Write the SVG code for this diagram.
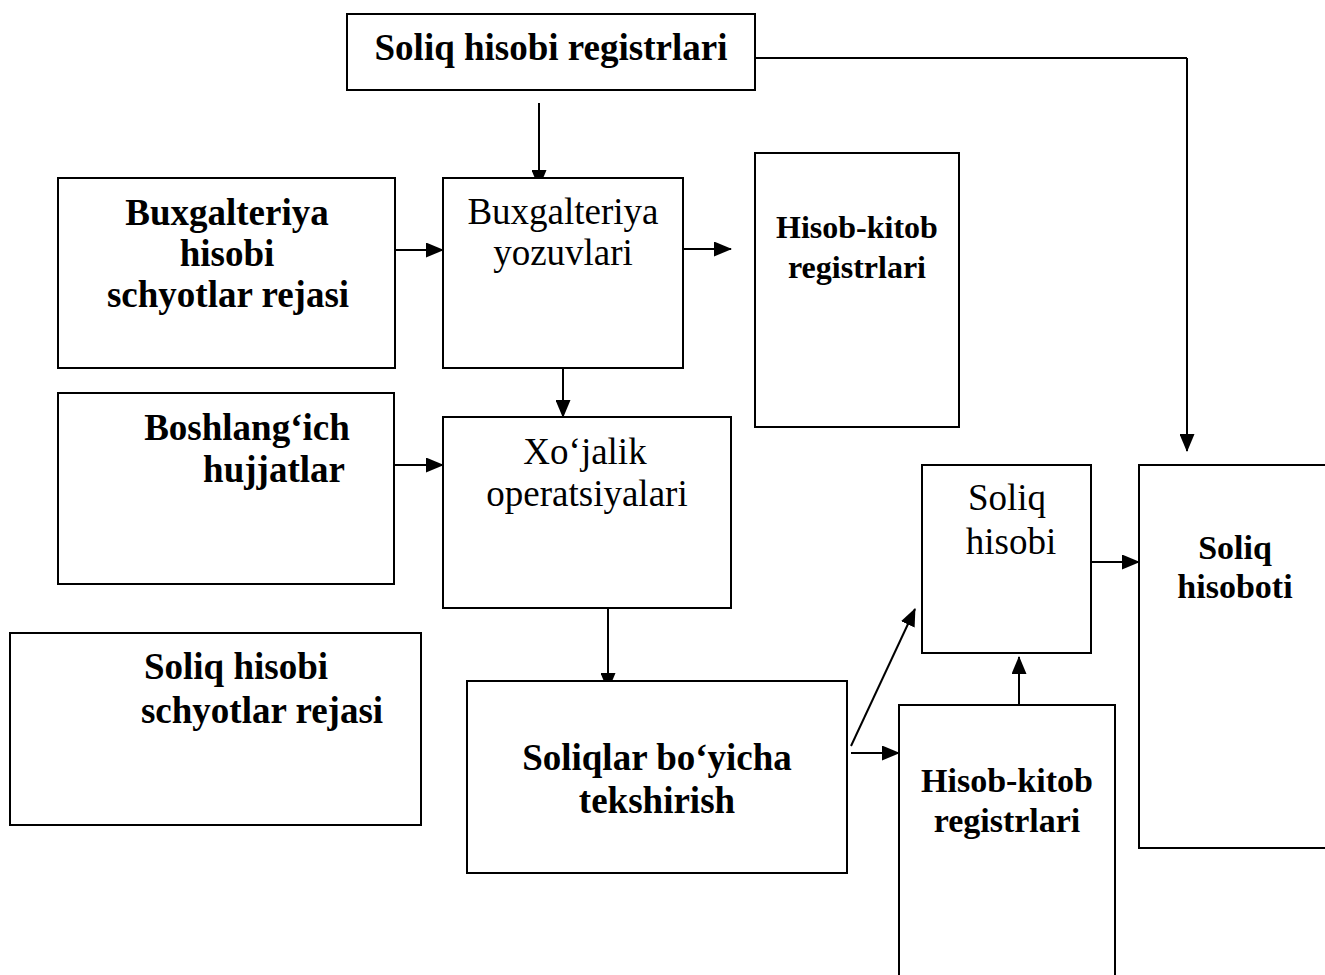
<svg xmlns="http://www.w3.org/2000/svg" width="1325" height="975" viewBox="0 0 1325 975">
  <defs>
    <marker id="arrow" viewBox="0 0 18 15" refX="17" refY="7.5" markerWidth="18" markerHeight="15" markerUnits="userSpaceOnUse" orient="auto">
      <path d="M0,0 L18,7.5 L0,15 Z" fill="#000"/>
    </marker>
    <style>
      .box { fill: #fff; stroke: #000; stroke-width: 2; }
      .t { font-family: "Liberation Serif", "Times New Roman", serif; fill: #000; text-anchor: middle; }
      .b { font-weight: bold; font-size: 37px; }
      .bs { font-weight: bold; font-size: 34px; }
      .bx { font-weight: bold; font-size: 32px; }
      .r { font-weight: normal; font-size: 37px; }
      .c { fill: none; stroke: #000; stroke-width: 2; }
      .ca { fill: none; stroke: #000; stroke-width: 2; marker-end: url(#arrow); }
    </style>
  </defs>
  <rect width="1325" height="975" fill="#fff"/>

  <!-- connectors -->
  <g id="connectors">
    <path class="c" d="M755,58 H1187"/>
    <path class="ca" d="M1187,58 V451"/>
    <path class="ca" d="M539,103 V187"/>
    <path class="ca" d="M396,250 H443"/>
    <path class="ca" d="M684,249 H731"/>
    <path class="ca" d="M563,368 V417"/>
    <path class="ca" d="M395,465 H443"/>
    <path class="ca" d="M608,608 V690"/>
    <path class="ca" d="M851,746 L915,609"/>
    <path class="ca" d="M851,753 H899"/>
    <path class="ca" d="M1019,705 V657"/>
    <path class="ca" d="M1092,562 H1139"/>
  </g>

  <g id="soliq-hisobi-registrlari">
    <rect class="box" x="347" y="14" width="408" height="76"/>
    <text class="t b" x="551" y="60">Soliq hisobi registrlari</text>
  </g>

  <g id="buxgalteriya-hisobi-rejasi">
    <rect class="box" x="58" y="178" width="337" height="190"/>
    <text class="t b" x="227" y="225">Buxgalteriya</text>
    <text class="t b" x="227" y="266">hisobi</text>
    <text class="t b" x="228" y="307">schyotlar rejasi</text>
  </g>

  <g id="buxgalteriya-yozuvlari">
    <rect class="box" x="443" y="178" width="240" height="190"/>
    <text class="t r" x="563" y="224">Buxgalteriya</text>
    <text class="t r" x="563" y="265">yozuvlari</text>
  </g>

  <g id="hisob-kitob-registrlari-1">
    <rect class="box" x="755" y="153" width="204" height="274"/>
    <text class="t bx" x="857" y="238">Hisob-kitob</text>
    <text class="t bx" x="857" y="278">registrlari</text>
  </g>

  <g id="boshlangich-hujjatlar">
    <rect class="box" x="58" y="393" width="336" height="191"/>
    <text class="t b" x="247" y="440">Boshlang‘ich</text>
    <text class="t b" x="274" y="482">hujjatlar</text>
  </g>

  <g id="xojalik-operatsiyalari">
    <rect class="box" x="443" y="417" width="288" height="191"/>
    <text class="t r" x="585" y="464">Xo‘jalik</text>
    <text class="t r" x="587" y="506">operatsiyalari</text>
  </g>

  <g id="soliq-hisobi-rejasi">
    <rect class="box" x="10" y="633" width="411" height="192"/>
    <text class="t b" x="236" y="679">Soliq hisobi</text>
    <text class="t b" x="262" y="723">schyotlar rejasi</text>
  </g>

  <g id="soliqlar-tekshirish">
    <rect class="box" x="467" y="681" width="380" height="192"/>
    <text class="t b" x="657" y="770">Soliqlar bo‘yicha</text>
    <text class="t b" x="657" y="813">tekshirish</text>
  </g>

  <g id="soliq-hisobi">
    <rect class="box" x="922" y="465" width="169" height="188"/>
    <text class="t r" x="1007" y="510">Soliq</text>
    <text class="t r" x="1011" y="554">hisobi</text>
  </g>

  <g id="soliq-hisoboti">
    <rect class="box" x="1139" y="465" width="200" height="383"/>
    <text class="t bs" x="1235" y="559">Soliq</text>
    <text class="t bs" x="1235" y="598">hisoboti</text>
  </g>

  <g id="hisob-kitob-registrlari-2">
    <rect class="box" x="899" y="705" width="216" height="280"/>
    <text class="t bs" x="1007" y="792">Hisob-kitob</text>
    <text class="t bs" x="1007" y="832">registrlari</text>
  </g>
</svg>
